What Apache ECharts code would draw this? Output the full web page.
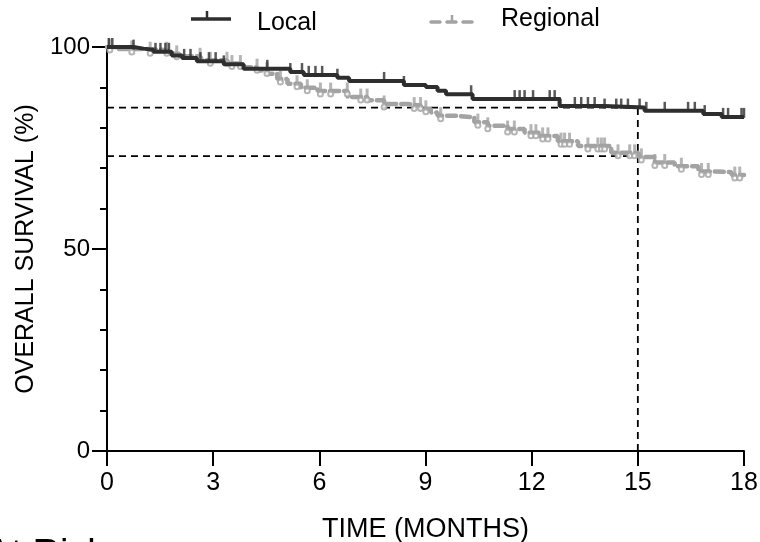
<!DOCTYPE html>
<html><head><meta charset="utf-8">
<script src="https://cdn.jsdelivr.net/npm/echarts@6/dist/echarts.min.js"></script>
<style>html,body{margin:0;padding:0;background:#fff}#c{width:760px;height:542px}</style>
</head><body><div id="c"></div>
<script>
const seriesNames = ['Local', 'Regional'];
const xTicks = [0, 3, 6, 9, 12, 15, 18];
const yTicks = [0, 50, 100];
const localTimes = [0,0.75,1.03,1.31,1.83,2.12,2.54,3.30,3.86,5.18,5.56,6.51,6.84,8.39,9.01,9.34,9.58,10.33,12.79,14.06,15.19,16.85,17.37,18];
const localSurv  = [100,99.6,99.3,98.8,97.9,97.3,96.5,95.7,94.6,93.8,93.1,92.4,91.6,90.6,90.1,89.2,88.3,87.1,85.4,85.0,84.2,83.4,82.7,82.7];
const regionalTimes = [0,0.25,1.08,1.72,2.05,2.64,3.40,3.78,4.25,4.53,4.81,5.10,5.48,5.95,6.80,7.36,7.83,8.49,8.87,9.15,9.34,9.81,10.38,10.76,11.32,11.80,12.22,12.74,13.31,14.25,15.02,15.48,16.04,16.71,17.18,17.65,18];
const regionalSurv  = [100,99.5,99.2,98.3,97.7,96.7,95.9,95.0,94.2,93.4,92.1,90.9,89.9,89.1,87.6,86.8,85.9,85.5,84.7,83.8,83.0,82.6,81.4,80.5,79.7,78.8,78.0,76.7,75.5,73.8,72.8,71.4,70.5,69.2,69.0,68.3,68.3];
const localCensorTimes = [0.05,0.15,0.75,1.37,1.51,1.65,1.75,2.18,2.36,2.64,2.88,3.07,3.30,4.53,5.18,5.51,5.70,5.89,6.08,6.51,7.83,8.39,10.29,11.52,11.66,11.80,12.04,12.51,12.65,12.79,13.22,13.40,13.59,13.78,14.06,14.39,14.53,14.72,15.05,15.24,15.76,16.42,16.61,16.89,17.41,17.55,17.93,18.0];
const regionalCensorTimes = [0.08,0.70,1.22,1.69,1.97,2.63,2.92,3.39,3.53,3.77,4.24,4.52,4.90,5.37,5.66,6.03,6.32,6.79,7.17,7.35,7.83,8.68,8.86,9.01,9.43,10.48,10.76,11.32,11.51,11.98,12.12,12.31,12.46,12.83,12.93,13.07,13.59,13.87,13.97,14.06,14.44,14.77,14.91,15.10,15.48,15.76,16.23,16.80,16.99,17.74,17.88];
const refTime = 15;
const refLevels = [85, 73];

const FONT = '"Liberation Sans", Arial, sans-serif';
const LOCAL_COLOR = '#2e2e2e';
const REG_COLOR = '#a3a3a3';

function survAt(times, surv, t) {
  let s = surv[0];
  for (let i = 0; i < times.length; i++) if (times[i] <= t) s = surv[i];
  return s;
}
const localData = localTimes.map((t, i) => [t, localSurv[i]]);
const regionalData = regionalTimes.map((t, i) => [t, regionalSurv[i]]);
const localCensor = localCensorTimes.map(t => [t, survAt(localTimes, localSurv, t)]);
const regionalCensor = regionalCensorTimes.map(t => [t, survAt(regionalTimes, regionalSurv, t)]);

const refStyle = { color: '#000', width: 1.8, type: [7, 5] };
const refSeries = [
  [[0, refLevels[0]], [refTime, refLevels[0]]],
  [[0, refLevels[1]], [refTime, refLevels[1]]],
  [[refTime, 0], [refTime, refLevels[0]]]
].map(d => ({ type: 'line', data: d, symbol: 'none', silent: true, lineStyle: refStyle, z: 1, animation: false }));

const chart = echarts.init(document.getElementById('c'), null, { renderer: 'canvas' });
chart.setOption({
  animation: false,
  backgroundColor: '#fff',
  grid: { left: 107, right: 16, top: 47, bottom: 91, containLabel: false, outerBoundsMode: 'none' },
  xAxis: {
    type: 'value', min: 0, max: 18, interval: 3,
    name: 'TIME (MONTHS)', nameLocation: 'middle', nameGap: 65,
    nameTextStyle: { fontFamily: FONT, fontSize: 27, color: '#000' },
    axisLine: { show: true, onZero: false, lineStyle: { color: '#000', width: 2 } },
    axisTick: { show: true, length: 15, lineStyle: { color: '#000', width: 2 } },
    axisLabel: { fontFamily: FONT, fontSize: 25, color: '#000', margin: 20 },
    splitLine: { show: false }
  },
  yAxis: {
    type: 'value', min: 0, max: 100, interval: 50,
    name: 'OVERALL SURVIVAL (%)', nameLocation: 'middle', nameGap: 62, nameRotate: 90,
    nameTextStyle: { fontFamily: FONT, fontSize: 25, color: '#000' },
    axisLine: { show: true, lineStyle: { color: '#000', width: 2 } },
    axisTick: { show: true, length: 15, lineStyle: { color: '#000', width: 2 } },
    minorTick: { show: true, splitNumber: 5, length: 7, lineStyle: { color: '#000', width: 2 } },
    axisLabel: { fontFamily: FONT, fontSize: 24, color: '#000', margin: 17 },
    splitLine: { show: false }
  },
  series: refSeries.concat([
    { name: seriesNames[1], type: 'line', step: 'end', data: regionalData, symbol: 'none', z: 2,
      lineStyle: { color: REG_COLOR, width: 4.5, type: [9, 5], cap: 'round' } },
    { name: seriesNames[1] + ' censored', type: 'scatter', data: regionalCensor, z: 2,
      symbol: 'rect', symbolSize: [3, 9], symbolOffset: [0, -4], itemStyle: { color: REG_COLOR } },
    { name: seriesNames[1] + ' censored o', type: 'scatter', data: regionalCensor, z: 2,
      symbol: 'emptyCircle', symbolSize: 5, symbolOffset: [0, 3], itemStyle: { color: REG_COLOR, borderColor: REG_COLOR, borderWidth: 1.5 } },
    { name: seriesNames[0], type: 'line', step: 'end', data: localData, symbol: 'none', z: 3,
      lineStyle: { color: LOCAL_COLOR, width: 4 } },
    { name: seriesNames[0] + ' censored', type: 'scatter', data: localCensor, z: 3,
      symbol: 'rect', symbolSize: [2.5, 10], symbolOffset: [0, -4], itemStyle: { color: LOCAL_COLOR } }
  ]),
  graphic: [
    { type: 'line', shape: { x1: 191, y1: 19, x2: 231, y2: 19 }, style: { stroke: LOCAL_COLOR, lineWidth: 3.5 } },
    { type: 'line', shape: { x1: 207, y1: 19, x2: 207, y2: 11 }, style: { stroke: LOCAL_COLOR, lineWidth: 2.5 } },
    { type: 'text', left: 257, top: 11, style: { text: seriesNames[0], font: '25px ' + FONT, fill: '#000' } },
    { type: 'line', shape: { x1: 431, y1: 22, x2: 478, y2: 22 }, style: { stroke: REG_COLOR, lineWidth: 3.5, lineDash: [9, 7], lineCap: 'round' } },
    { type: 'line', shape: { x1: 452, y1: 22, x2: 452, y2: 15 }, style: { stroke: REG_COLOR, lineWidth: 2.5 } },
    { type: 'text', left: 501, top: 7, style: { text: seriesNames[1], font: '25px ' + FONT, fill: '#000' } },
    { type: 'text', left: -14, top: 537, style: { text: 'At Risk', font: '38px ' + FONT, fill: '#000' } }
  ]
});
</script>
</body></html>
